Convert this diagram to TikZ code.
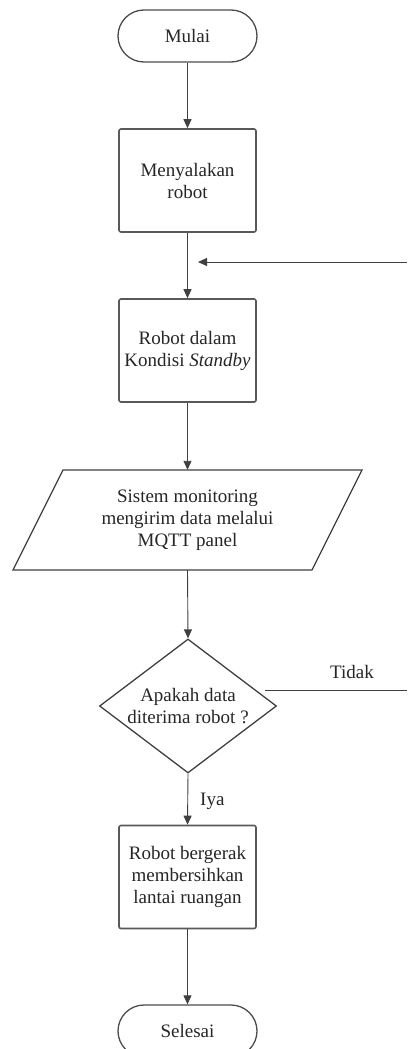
\documentclass[tikz,border=0pt]{standalone}
\usepackage{fontspec}
\setmainfont{Liberation Serif}
\usetikzlibrary{shapes.misc,shapes.geometric,arrows.meta}
\begin{document}
\begin{tikzpicture}[x=1pt,y=-1pt,
  txt/.style={font=\fontsize{19}{22}\selectfont, text=black!85, align=center, inner sep=0pt},
  term/.style={rounded rectangle, draw=black!70, line width=1.3pt, minimum width=139pt, minimum height=52pt, inner sep=0pt, txt},
  procbox/.style={rectangle, rounded corners=2pt, draw=black!65, line width=1.6pt, minimum width=137pt, minimum height=103pt, inner sep=0pt, txt},
  flow/.style={draw=black!75, line width=0.9pt, -{Triangle[width=8pt,length=9pt]}},
  plain/.style={draw=black!75, line width=0.9pt},
  shapeline/.style={draw=black!75, line width=1.3pt}]
\clip (0,0) rectangle (407,1049);
\fill[white] (0,0) rectangle (407,1049);

\node[term] (mulai) at (187.5,36) {Mulai};
\node[procbox] (b1) at (187.5,180.5) {Menyalakan\\robot};
\node[procbox] (b2) at (187.5,350.5) {Robot dalam\\Kondisi \textit{Standby}};

% parallelogram
\draw[shapeline] (63,470) -- (362,470) -- (312,570) -- (13,570) -- cycle;
\node[txt, minimum width=249pt, minimum height=100pt] (io) at (187.5,520) {Sistem monitoring\\mengirim data melalui\\MQTT panel};

% decision
\node[diamond, shapeline, minimum width=177pt, minimum height=134pt, inner sep=0pt, aspect=1.32] (dec) at (188,706) {};
\node[txt] (dect) at (188,706) {Apakah data\\diterima robot ?};

\node[procbox] (b3) at (187.5,877) {Robot bergerak\\membersihkan\\lantai ruangan};
\node[term] (selesai) at (187.5,1031) {Selesai};

\draw[flow] (mulai.south) -- (b1.north);
\draw[flow] (b1.south) -- (b2.north);
\draw[flow] (b2.south) -- (io.north);
\draw[flow] (io.south) -- (dec.north);
\draw[flow] (dec.south) -- node[txt, right=12pt, pos=0.55] (iya) {Iya} (b3.north);
\draw[flow] (b3.south) -- (selesai.north);

\coordinate (tstart) at (265,690);
\coordinate (tend) at (407,690);
\draw[plain] (tstart) -- (tend);
\node[txt] (tidak) at (352,672) {Tidak};

\coordinate (fbstart) at (407,262);
\coordinate (fbend) at (198,262);
\draw[flow] (fbstart) -- (fbend);
\end{tikzpicture}
\end{document}
